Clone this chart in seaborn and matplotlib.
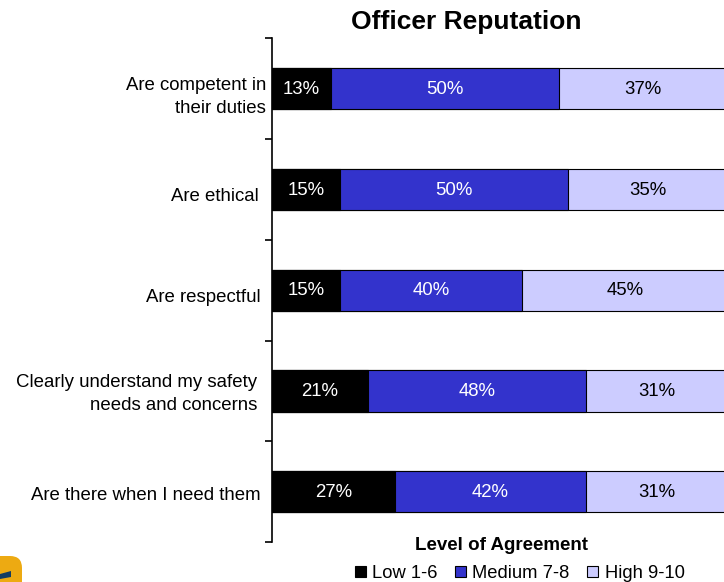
import matplotlib
matplotlib.use('Agg')
import matplotlib.pyplot as plt
import pandas as pd
import seaborn as sns
from matplotlib.patches import Patch, FancyBboxPatch, Polygon

## chart data
items = ["Are competent in\ntheir duties", "Are ethical", "Are respectful",
         "Clearly understand my safety\nneeds and concerns", "Are there when I need them"]
low = [13, 15, 15, 21, 27]
medium = [50, 50, 40, 48, 42]
high = [37, 35, 45, 31, 31]
level_names = ["Low 1-6", "Medium 7-8", "High 9-10"]
colors = ["#000000", "#3333CC", "#CCCCFF"]

## label placement in pixels, the original chart has them a bit uneven
label_right = [266, 259, 261, 257, 261]
label_shift = [7.5, 6.5, 7, 2.5, 4]

sns.set_theme(style="white")
plt.rcParams['font.family'] = ['Liberation Sans', 'DejaVu Sans']

df = pd.DataFrame({'item': items, 'Low': low, 'Medium': medium, 'High': high})
df['low_end'] = df['Low']
df['med_end'] = df['Low'] + df['Medium']
df['high_end'] = df['Low'] + df['Medium'] + df['High']

fig = plt.figure(figsize=(7.24, 5.82), dpi=100)
ax = fig.add_axes([272/724, 1-542/582, (724-272)/724, (542-38.5)/582])

## draw back to front so the stacks show
for col, c in [('high_end', colors[2]), ('med_end', colors[1]), ('low_end', colors[0])]:
    sns.barplot(data=df, y='item', x=col, color=c, width=0.41, saturation=1,
                edgecolor='black', linewidth=0.8, ax=ax)

## the right end of the bars runs off the picture
ax.set_xlim(0, 99.3)
ax.set_ylim(4.5, -0.5)
ax.set_xlabel("")
ax.set_ylabel("")
ax.xaxis.set_visible(False)
for s in ['top', 'right', 'bottom']:
    ax.spines[s].set_visible(False)
ax.spines['left'].set_color('black')
ax.spines['left'].set_linewidth(1.2)

## ticks sit between the categories
ax.set_yticks([i - 0.5 for i in range(6)])
ax.set_yticklabels([])
ax.tick_params(axis='y', left=True, length=5, width=1.2, color='black', pad=0)

for i, name in enumerate(items):
    fig.text(label_right[i]/724, 1-(89.5 + 100.6*i + label_shift[i])/582, name, ha='right', va='center',
             fontsize=13.4, color='black', linespacing=1.43)
    ax.text(low[i] / 2, i + 0.005, str(low[i]) + "%", ha='center', va='center', fontsize=13.4, color='white')
    ax.text(low[i] + medium[i] / 2, i + 0.005, str(medium[i]) + "%", ha='center', va='center', fontsize=13.4, color='white')
    ax.text(low[i] + medium[i] + high[i] / 2, i + 0.005, str(high[i]) + "%", ha='center', va='center', fontsize=13.4, color='black')

fig.text(466.5/724, 1-22.5/582, "Officer Reputation", ha='center', va='center', fontsize=19, fontweight='bold', color='black')
fig.text(502/724, 1-546/582, "Level of Agreement", ha='center', va='center', fontsize=13.5, fontweight='bold', color='black')

handles = [Patch(facecolor=c, edgecolor='black', linewidth=0.8) for c in colors]
fig.legend(handles, level_names, loc='center', bbox_to_anchor=(519.5/724, 1-573.5/582), ncol=3, frameon=False,
           fontsize=13.2, labelcolor='black', handlelength=0.6, handleheight=0.6, handletextpad=0.35,
           columnspacing=0.96, borderpad=0)

## corner of the logo, cut off by the picture edge
logo_ax = fig.add_axes([0, 0, 1, 1], facecolor='none')
logo_ax.set_xlim(0, 724)
logo_ax.set_ylim(582, 0)
logo_ax.axis('off')
logo_ax.add_patch(FancyBboxPatch((-20, 556), 42, 50, boxstyle="round,pad=0,rounding_size=12",
                                 facecolor='#EDAA12', edgecolor='none'))
logo_ax.add_patch(Polygon([(0, 574), (11, 571), (11, 577), (0, 579)], facecolor='#123C63', edgecolor='none'))

fig.savefig('out.png', dpi=100)
